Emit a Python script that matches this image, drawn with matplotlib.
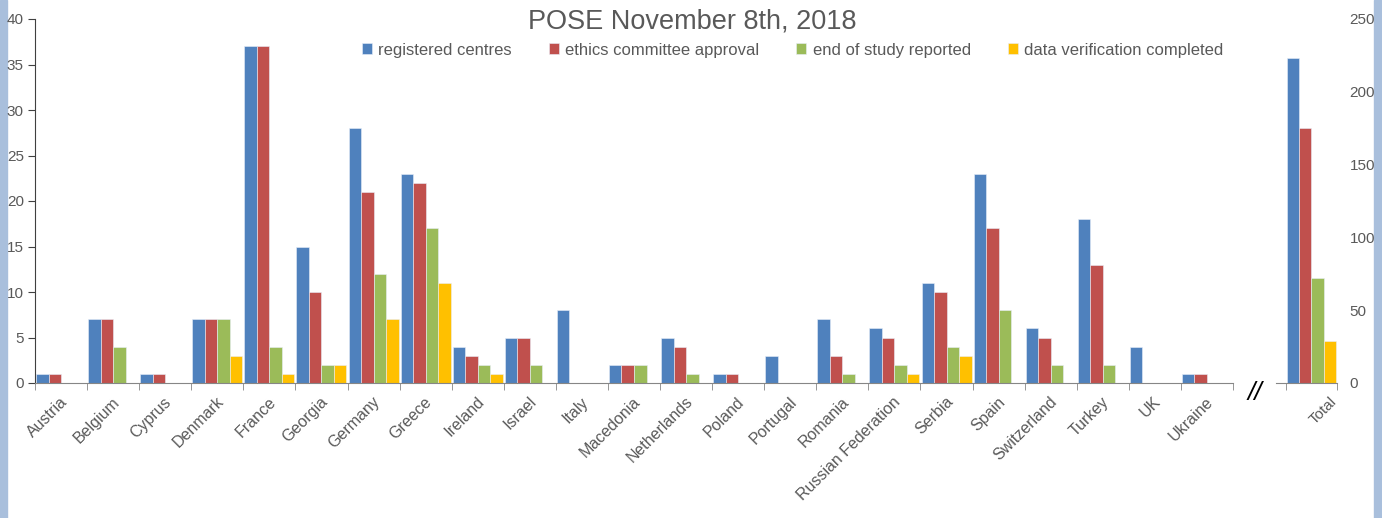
import matplotlib as mpl
mpl.use('Agg')
import matplotlib.pyplot as plt
import numpy as np
from matplotlib.patches import Rectangle

countries = ["Austria", "Belgium", "Cyprus", "Denmark", "France", "Georgia",
             "Germany", "Greece", "Ireland", "Israel", "Italy", "Macedonia",
             "Netherlands", "Poland", "Portugal", "Romania", "Russian Federation",
             "Serbia", "Spain", "Switzerland", "Turkey", "UK", "Ukraine"]
registered = [1, 7, 1, 7, 37, 15, 28, 23, 4, 5, 8, 2, 5, 1, 3, 7, 6, 11, 23, 6, 18, 4, 1]
ethics = [1, 7, 1, 7, 37, 10, 21, 22, 3, 5, 0, 2, 4, 1, 0, 3, 5, 10, 17, 5, 13, 0, 1]
ended = [0, 4, 0, 7, 4, 2, 12, 17, 2, 2, 0, 2, 1, 0, 0, 1, 2, 4, 8, 2, 2, 0, 0]
verified = [0, 0, 0, 3, 1, 2, 7, 11, 1, 0, 0, 0, 0, 0, 0, 0, 1, 3, 0, 0, 0, 0, 0]
totals = [223, 175, 72, 29]

labels = ["registered centres", "ethics committee approval",
          "end of study reported", "data verification completed"]
colors = ["#4F81BD", "#C0504D", "#9BBB59", "#FFC000"]
textgray = "#595959"

plt.rcParams['font.family'] = ['Liberation Sans', 'DejaVu Sans']

W, H = 1382, 518
fig = plt.figure(figsize=(W / 100, H / 100), dpi=100)

def px(x0, y0, x1, y1):
    return [x0 / W, 1 - y1 / H, (x1 - x0) / W, (y1 - y0) / H]

ax = fig.add_axes(px(35, 19, 1233, 383))
ax2 = fig.add_axes(px(1276, 19, 1337, 383))

bw = 0.24
offs = [-0.36, -0.12, 0.12, 0.36]
x = np.arange(len(countries))
series = [registered, ethics, ended, verified]
for s, c, o, lab in zip(series, colors, offs, labels):
    ax.bar(x + o, s, width=bw, color=c, edgecolor="#e8eef8", linewidth=0.4, label=lab)
for t, c, o in zip(totals, colors, offs):
    ax2.bar(o, t, width=bw, color=c, edgecolor="#e8eef8", linewidth=0.4)

ax.set_xlim(-0.5, len(countries) - 0.5)
ax.set_ylim(0, 40)
ax.set_yticks(range(0, 41, 5))
ax2.set_xlim(-0.696, 0.5)
ax2.set_ylim(0, 250)
ax2.set_yticks(range(0, 251, 50))

for a in (ax, ax2):
    a.spines['top'].set_visible(False)
    a.spines['right'].set_visible(False)
    a.spines['bottom'].set_color("#868686")
    a.set_xticks([])
    a.tick_params(axis='x', which='minor', length=5, color="#868686", direction='out')
ax.set_xticks(np.arange(-0.5, len(countries)), minor=True)
ax2.set_xticks([-0.5, 0.5], minor=True)

ax.spines['left'].set_color("#404040")
ax.tick_params(axis='y', length=5, color="#404040", labelsize=11, labelcolor=textgray, pad=3)
ax2.spines['left'].set_visible(False)
ax2.yaxis.tick_right()
ax2.tick_params(axis='y', length=0, labelsize=11, labelcolor=textgray, pad=9)

# rotated category labels
for i, name in enumerate(countries):
    ax.annotate(name, xy=(i, 0), xycoords=('data', 'axes fraction'),
                xytext=(-1, -8), textcoords='offset points',
                rotation=45, rotation_mode='anchor', ha='right', va='top',
                fontsize=11.5, color=textgray)
ax2.annotate("Total", xy=(0, 0), xycoords=('data', 'axes fraction'),
             xytext=(13, -8), textcoords='offset points',
             rotation=45, rotation_mode='anchor', ha='right', va='top',
             fontsize=11, color=textgray)

fig.text(1255 / W, 1 - 393 / H, "//", fontsize=19, style='italic',
         ha='center', va='center', color='black')

fig.text(692 / W, 1 - 22 / H, "POSE November 8th, 2018", fontsize=19.5,
         ha='center', va='center', color=textgray)

leg = ax.legend(loc='center left', bbox_to_anchor=(355 / W, 1 - 50 / H),
                bbox_transform=fig.transFigure, ncol=4, frameon=False,
                fontsize=12, handlelength=0.6, handleheight=0.6,
                handletextpad=0.4, columnspacing=2.2, borderaxespad=0)
for t in leg.get_texts():
    t.set_color(textgray)

# window frame of the screenshot
fig.patches.append(Rectangle((0, 0), 7 / W, 1, transform=fig.transFigure,
                             color="#a9bfdc", zorder=-1))
fig.patches.append(Rectangle((1374 / W, 0), 8 / W, 1, transform=fig.transFigure,
                             color="#a9bfdc", zorder=-1))

plt.savefig("out.png", dpi=100)
